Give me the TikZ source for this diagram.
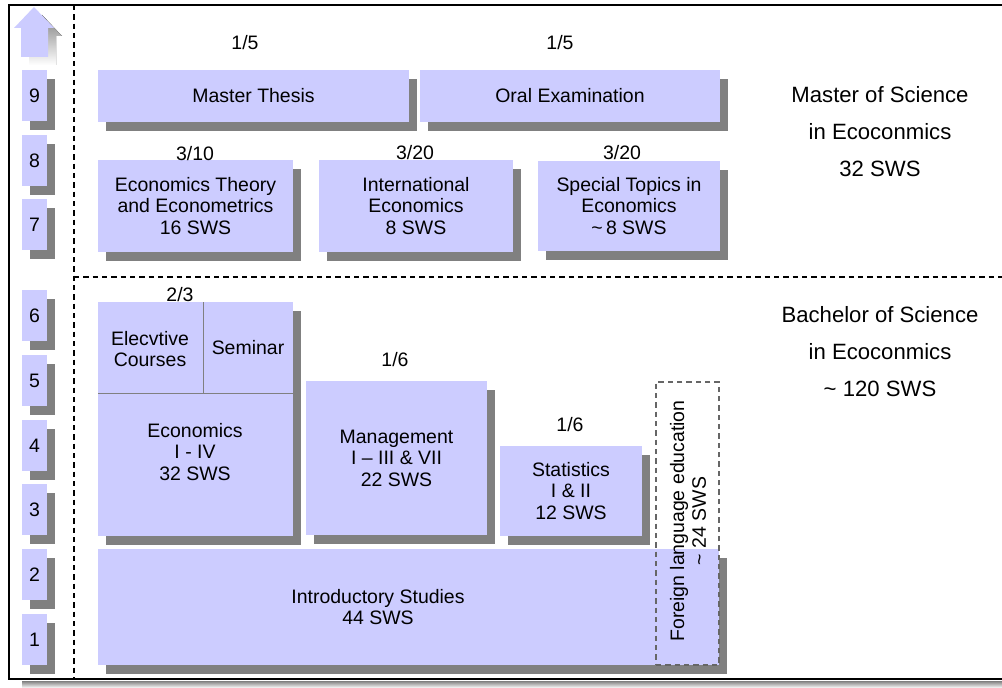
\documentclass[tikz,border=0pt]{standalone}
\usepackage{fontspec}
\setmainfont{Liberation Sans}
\usetikzlibrary{fit,shadows}
\definecolor{lav}{HTML}{CCCCFF}
\definecolor{shade}{HTML}{808080}
\newcommand\bxfont{\fontsize{14.6}{16.2}\selectfont}
\newcommand\degfont{\fontsize{16.6}{27.8}\selectfont}
\tikzset{
  hardshadow/.style={general shadow={fill=shade, shadow xshift=6.3pt, shadow yshift=-6.5pt}},
  box/.style={fill=lav, inner sep=0pt, hardshadow},
  txt/.style={inner sep=0pt, align=center, font=\bxfont},
  ratio/.style={inner sep=0pt, font=\bxfont},
  degree/.style={inner sep=0pt, align=center, font=\degfont},
  sep/.style={line width=1.2pt, dash pattern=on 4pt off 3pt},
  divider/.style={draw=shade, line width=0.75pt}
}
\begin{document}
\begin{tikzpicture}[x=0.75pt, y=-0.75pt]
\useasboundingbox (0,0) rectangle (1002,688);

% outer frame with its shadow
\fill[shade] (22,681) rectangle (1002,688);
\draw[line width=1.5pt] (1002,5) -| (9,679) -- (1002,679);

% separators between the two programmes and the semester column
\draw[sep] (74,5) -- (74,679);
\draw[sep] (74,277) -- (1002,277);

% upward arrow above the semester column
\fill[shade, shift={(8,8)}] (34,7) -- (54,28) -- (48,28) -- (48,57) -- (21,57) -- (21,28) -- (14,28) -- cycle;
\fill[lav] (34,7) -- (54,28) -- (48,28) -- (48,57) -- (21,57) -- (21,28) -- (14,28) -- cycle;

% semesters
\foreach \n/\t in {9/70,8/135,7/199,6/290,5/355,4/420,3/484,2/549,1/614}{
  \node[box, fit={(22,\t) (47,\t+51)}] (sem\n) {};
  \node[txt] (semnum\n) at (sem\n.center) {\n};
}

% ---- Master of Science ----
\node[box, fit={(98,70) (409,122)}] (thesis) {};
\node[txt] (thesistxt) at (thesis.center) {Master Thesis};
\node[box, fit={(420,70) (720,122)}] (oral) {};
\node[txt] (oraltxt) at (oral.center) {Oral Examination};
\node[ratio] (rthesis) at (245,43) {1/5};
\node[ratio] (roral) at (560,43) {1/5};

\node[box, fit={(98,160) (293,252)}] (theory) {};
\node[txt] (theorytxt) at (theory.center) {Economics Theory\\and Econometrics\\16 SWS};
\node[box, fit={(319,160) (513,252)}] (intl) {};
\node[txt] (intltxt) at (intl.center) {International\\Economics\\8 SWS};
\node[box, fit={(538,161) (720,251)}] (special) {};
\node[txt] (specialtxt) at (special.center) {Special Topics in\\Economics\\\textasciitilde\,8 SWS};
\node[ratio] (rtheory) at (195,154) {3/10};
\node[ratio] (rintl) at (415,153) {3/20};
\node[ratio] (rspecial) at (622,153) {3/20};

\node[degree] (msc) at (880,131.5) {Master of Science\\in Ecoconmics\\32 SWS};

% ---- Bachelor of Science ----
\node[box, fit={(98,302) (293,536)}] (econblock) {};
\draw[divider] (98,393) -- (293,393);
\draw[divider] (203,302) -- (203,393);
\node[txt] (elective) at (150,349) {Elecvtive\\Courses};
\node[txt] (seminar) at (248,348) {Seminar};
\node[txt] (econ) at (195,452) {Economics\\I - IV\\32 SWS};
\node[ratio] (relective) at (180,295) {2/3};

\node[box, fit={(306,381) (487,535)}] (mgmt) {};
\node[txt] (mgmttxt) at (mgmt.center) {Management\\I -- III \& VII\\22 SWS};
\node[ratio] (rmgmt) at (395,360) {1/6};

\node[box, fit={(500,446) (642,536)}] (stats) {};
\node[txt] (statstxt) at (stats.center) {Statistics\\I \& II\\12 SWS};
\node[ratio] (rstats) at (570,425) {1/6};

\node[box, fit={(98,549) (719,665)}] (intro) {};
\node[txt] (introtxt) at (378,607) {Introductory Studies\\44 SWS};

\node[draw=shade!80!black, line width=1.1pt, dash pattern=on 4pt off 3pt, inner sep=0pt, fit={(656,382) (719,665)}] (foreign) {};
\node[txt, rotate=90] (foreigntxt) at (688,521) {Foreign language education\\\textasciitilde\ 24 SWS};

\node[degree] (bsc) at (880,352) {Bachelor of Science\\in Ecoconmics\\\textasciitilde\ 120 SWS};
\end{tikzpicture}
\end{document}
